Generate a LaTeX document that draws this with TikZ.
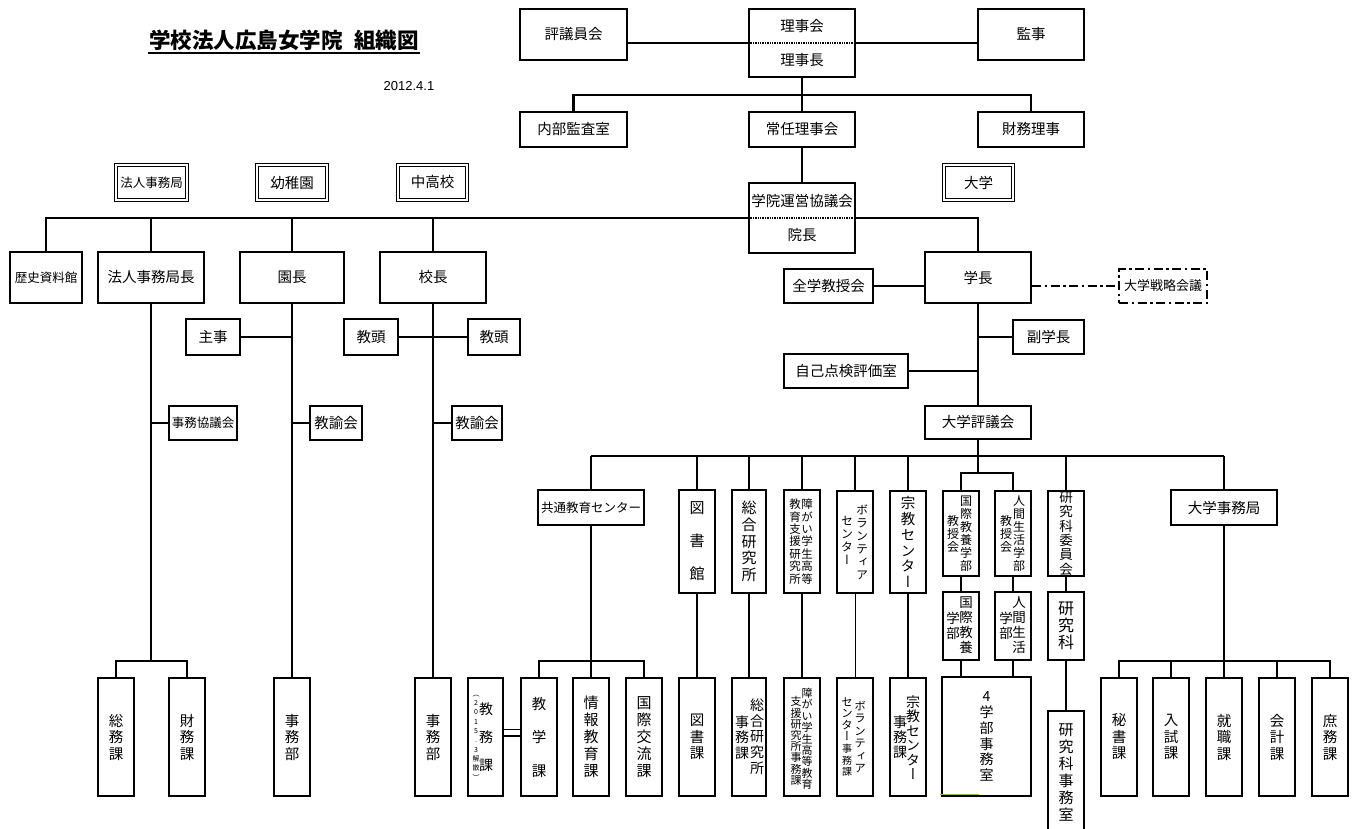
\documentclass[tikz,border=0pt]{standalone}
\usepackage{fontspec}
\setmainfont{Noto Sans CJK JP}
\newfontfamily\vfont[RawFeature=+vert]{Noto Sans CJK JP}
\newfontfamily\latinfont{Liberation Sans}
\newcommand\fs[2]{\fontsize{#1}{#2}\selectfont}
\newcommand\mkbox[7][]{\node[box,minimum width={(#5)-(#3)},minimum height={(#6)-(#4)},#1] (#2) at ({((#3)+(#5))/2},{((#4)+(#6))/2}) {#7};}
\definecolor{olivegr}{RGB}{150,190,70}
\begin{document}
\begin{tikzpicture}[x=1pt,y=-1pt,line width=2.1pt,
  box/.style={draw,rectangle,inner sep=0pt,align=center,font=\fs{14.5}{17}},
  txt/.style={inner sep=0pt,font=\fs{14.5}{17}},
  vt/.style 2 args={align=center,inner sep=0pt,font=\vfont\fs{#1}{#2}},
  dbl/.style={double,double distance=2pt,line width=1.1pt},
  ddline/.style={dash pattern=on 9pt off 3.5pt on 2.5pt off 3.5pt},
  thin line/.style={line width=0.7pt}]
\useasboundingbox (0,0) rectangle (1357,829);

% title and date
\node[inner sep=0pt,font=\bfseries\fs{21.5}{24},anchor=base] (title) at (284,49) {学校法人広島女学院\hspace{12pt}組織図};
\draw[line width=1.6pt] ([yshift=-1pt]title.south west) -- ([yshift=-1pt]title.south east);
\node[inner sep=0pt,font=\latinfont\fs{13}{15}] (date) at (409,86) {2012.4.1};

% top level
\mkbox{hyo}{520}{9}{627}{60}{評議員会}
\mkbox{rijikai}{749}{9}{855}{77}{}
\node[txt] (rijikaiA) at (802,26) {理事会};
\node[txt] (rijikaiB) at (802,60) {理事長};
\draw[densely dotted,line width=1.4pt] (rijikai.west) -- (rijikai.east);
\mkbox{kanji}{978}{9}{1084}{60}{監事}
\mkbox{naibu}{520}{112}{627}{147}{内部監査室}
\mkbox{jonin}{749}{112}{855}{147}{常任理事会}
\mkbox{zaimu}{978}{112}{1084}{147}{財務理事}
\mkbox{gakuin}{749}{183}{855}{253}{}
\node[txt] (gakuinA) at (802,201) {学院運営協議会};
\node[txt] (gakuinB) at (802,235) {院長};
\draw[densely dotted,line width=1.4pt] (gakuin.west) -- (gakuin.east);

% labels (double frame)
\mkbox[dbl,font=\fs{12.5}{15}]{lblA}{116}{165}{187}{200}{法人事務局}
\mkbox[dbl]{lblB}{257}{165}{327}{200}{幼稚園}
\mkbox[dbl]{lblC}{398}{165}{467}{200}{中高校}
\mkbox[dbl]{lblD}{944}{165}{1013}{200}{大学}

% second level
\mkbox[font=\fs{12.5}{15}]{rekishi}{10}{252}{82}{303}{歴史資料館}
\mkbox{hojin}{98}{252}{204}{303}{法人事務局長}
\mkbox{encho}{240}{252}{344}{303}{園長}
\mkbox{kocho}{380}{252}{486}{303}{校長}
\mkbox{gakucho}{925}{252}{1031}{303}{学長}
\mkbox{zengaku}{784}{269}{873}{303}{全学教授会}
\mkbox[ddline,font=\fs{13}{15}]{senryaku}{1119}{269}{1207}{303}{大学戦略会議}
\mkbox{shuji}{186}{319}{240}{355}{主事}
\mkbox{kyotoA}{344}{319}{398}{355}{教頭}
\mkbox{kyotoB}{468}{319}{520}{355}{教頭}
\mkbox{fuku}{1013}{320}{1084}{354}{副学長}
\mkbox{jiko}{784}{354}{908}{388}{自己点検評価室}
\mkbox[font=\fs{12.5}{15}]{jimukyogi}{169}{406}{237}{440}{事務協議会}
\mkbox{kyoyuA}{310}{406}{362}{440}{教諭会}
\mkbox{kyoyuB}{452}{406}{502}{440}{教諭会}
\mkbox{hyogikai}{925}{406}{1031}{439}{大学評議会}

% third level
\mkbox[font=\fs{12.5}{15}]{kyotsu}{538}{490}{644}{525}{共通教育センター}
\mkbox[font=\vfont\fs{15}{33}]{tosho}{679}{490}{715}{593}{図\\書\\館}
\mkbox[font=\vfont\fs{15}{16.7}]{sogo}{732}{490}{766}{593}{総\\合\\研\\究\\所}
\mkbox{shogai}{784}{490}{820}{593}{}
\node[vt={11.5}{12.4}] (shogaiR) at (807,541.5) {障\\が\\い\\学\\生\\高\\等};
\node[vt={11.5}{12.4}] (shogaiL) at (795,541.5) {教\\育\\支\\援\\研\\究\\所};
\mkbox{volun}{837}{491}{873}{593}{}
\node[vt={12}{13}] (volunR) at (862,542) {ボ\\ラ\\ン\\テ\\ィ\\ア};
\node[vt={12}{13}] (volunL) at (847,540) {セ\\ン\\タ\\ー};
\mkbox[font=\vfont\fs{14.5}{15.8}]{shukyo}{890}{491}{926}{593}{宗\\教\\セ\\ン\\タ\\ー}
\mkbox{kokkyoju}{943}{491}{979}{576}{}
\node[vt={12}{13}] (kokkyojuR) at (966,533.5) {国\\際\\教\\養\\学\\部};
\node[vt={12}{13}] (kokkyojuL) at (953,533.5) {教\\授\\会};
\mkbox{ninkyoju}{995}{491}{1031}{576}{}
\node[vt={12}{13}] (ninkyojuR) at (1019,533.5) {人\\間\\生\\活\\学\\部};
\node[vt={12}{13}] (ninkyojuL) at (1006,533.5) {教\\授\\会};
\mkbox[font=\vfont\fs{13.5}{14.4}]{kenkyuiin}{1048}{491}{1084}{576}{研\\究\\科\\委\\員\\会}
\mkbox{kokgakubu}{943}{592}{979}{660}{}
\node[vt={13.5}{15}] (kokgakubuR) at (966,625.5) {国\\際\\教\\養};
\node[vt={13.5}{15}] (kokgakubuL) at (953,625.5) {学\\部};
\mkbox{ningakubu}{995}{592}{1031}{660}{}
\node[vt={13.5}{15}] (ningakubuR) at (1019,625.5) {人\\間\\生\\活};
\node[vt={13.5}{15}] (ningakubuL) at (1006,625.5) {学\\部};
\mkbox[font=\vfont\fs{16}{17}]{kenkyuka}{1048}{592}{1084}{660}{研\\究\\科}
\mkbox{daijimu}{1171}{490}{1277}{525}{大学事務局}

% fourth level
\tikzset{three/.style={font=\vfont\fs{14.5}{16.5}},five/.style={font=\vfont\fs{15}{17}}}
\mkbox[three]{somu}{98}{678}{134}{796}{総\\務\\課}
\mkbox[three]{zaimuka}{169}{678}{205}{796}{財\\務\\課}
\mkbox[three]{jimubuA}{274}{678}{310}{796}{事\\務\\部}
\mkbox[three]{jimubuB}{415}{678}{451}{796}{事\\務\\部}
\mkbox{kyomu}{468}{678}{503}{796}{}
\node[vt={14}{28}] (kyomuR) at (486,737) {教\\務\\課};
\node[vt={7}{9.3}] (kyomuL) at (476,737.5) {（\\2\\0\\1\\5\\.\\3\\解\\散\\）};
\mkbox[font=\vfont\fs{14.5}{33.5}]{kyogaku}{521}{678}{557}{796}{教\\学\\課}
\mkbox[five]{joho}{573}{678}{609}{796}{情\\報\\教\\育\\課}
\mkbox[five]{koryu}{626}{678}{662}{796}{国\\際\\交\\流\\課}
\mkbox[three]{toshoka}{679}{678}{715}{796}{図\\書\\課}
\mkbox{sogojimu}{732}{678}{766}{796}{}
\node[vt={14}{15.75}] (sogojimuR) at (757,736.5) {総\\合\\研\\究\\所};
\node[vt={14}{15.5}] (sogojimuL) at (742,737.5) {事\\務\\課};
\mkbox{shogaijimu}{784}{678}{820}{796}{}
\node[vt={11}{11.4}] (shogaijimuR) at (807,739) {障\\が\\い\\学\\生\\高\\等\\教\\育};
\node[vt={11}{11.2}] (shogaijimuL) at (796,741) {支\\援\\研\\究\\所\\事\\務\\課};
\mkbox{volunjimu}{837}{678}{873}{796}{}
\node[vt={11.5}{12.5}] (volunjimuR) at (860,737) {ボ\\ラ\\ン\\テ\\ィ\\ア};
\node[vt={11.5}{11.6}] (volunjimuL) at (847,737) {セ\\ン\\タ\\ー\\{\fs{10}{11}事}\\{\fs{10}{11}務}\\{\fs{10}{11}課}};
\mkbox{shukyojimu}{890}{678}{926}{796}{}
\node[vt={14}{14.5}] (shukyojimuR) at (913,737.5) {宗\\教\\セ\\ン\\タ\\ー};
\node[vt={14}{15}] (shukyojimuL) at (900,737.5) {事\\務\\課};
\mkbox[font=\vfont\fs{14}{15.8}]{yongakubu}{942}{677}{1031}{796}{4\\学\\部\\事\\務\\室}
\draw[draw=olivegr,line width=1.3pt] (940,794.5) -- (979,794.5);
\mkbox[font=\vfont\fs{15}{17}]{kenkyujimu}{1048}{711}{1084}{833}{研\\究\\科\\事\\務\\室}
\mkbox[three]{hisho}{1101}{678}{1137}{796}{秘\\書\\課}
\mkbox[three]{nyushi}{1153}{678}{1189}{796}{入\\試\\課}
\mkbox[three]{shushoku}{1206}{678}{1242}{796}{就\\職\\課}
\mkbox[three]{kaikei}{1259}{678}{1295}{796}{会\\計\\課}
\mkbox[three]{shomu}{1312}{678}{1348}{796}{庶\\務\\課}

% connectors
\coordinate (yA) at (0,95);
\coordinate (yB) at (0,456);
\coordinate (yC) at (0,473);
\coordinate (yD) at (0,661);
\draw (hyo.east |- rijikai.west) -- (rijikai.west);
\draw (rijikai.east) -- (kanji.west |- rijikai.east);
\draw (rijikai.south) -- (jonin.north);
\draw (naibu.north) -- (naibu.north |- yA) -- (zaimu.north |- yA) -- (zaimu.north);
\draw (jonin.south) -- (gakuin.north);
\draw (gakuin.west) -- (rekishi.north |- gakuin.west) -- (rekishi.north);
\draw (hojin.north) -- (hojin.north |- gakuin.west);
\draw (encho.north) -- (encho.north |- gakuin.west);
\draw (kocho.north) -- (kocho.north |- gakuin.west);
\draw (gakuin.east) -- (gakucho.north |- gakuin.east) -- (gakucho.north);
\draw (zengaku.east) -- (gakucho.west |- zengaku.east);
\draw[ddline] (gakucho.east |- senryaku.west) -- (senryaku.west);
\draw (gakucho.south) -- (hyogikai.north);
\draw (fuku.west) -- (gakucho.south |- fuku.west);
\draw (jiko.east) -- (gakucho.south |- jiko.east);
% left branches
\draw (hojin.south) -- (hojin.south |- yD);
\draw (jimukyogi.west) -- (hojin.south |- jimukyogi.west);
\draw (somu.north) -- (somu.north |- yD) -- (zaimuka.north |- yD) -- (zaimuka.north);
\draw (encho.south) -- (encho.south |- jimubuA.north);
\draw (shuji.east) -- (encho.south |- shuji.east);
\draw (kyoyuA.west) -- (encho.south |- kyoyuA.west);
\draw (kocho.south) -- (kocho.south |- jimubuB.north);
\draw (kyotoA.east) -- (kyotoB.west);
\draw (kyoyuB.west) -- (kocho.south |- kyoyuB.west);
% university council branches
\draw (kyotsu.north |- yB) -- (daijimu.north |- yB);
\foreach \n in {kyotsu,tosho,sogo,shogai,volun,shukyo,kenkyuiin,daijimu}
  \draw (\n.north) -- (\n.north |- yB);
\draw (hyogikai.south) -- (hyogikai.south |- yC);
\draw (kokkyoju.north) -- (kokkyoju.north |- yC) -- (ninkyoju.north |- yC) -- (ninkyoju.north);
\draw (kyotsu.south) -- (kyotsu.south |- yD);
\draw (kyogaku.north) -- (kyogaku.north |- yD) -- (koryu.north |- yD) -- (koryu.north);
\draw (joho.north) -- (joho.north |- yD);
\draw[double,double distance=5pt,line width=1.5pt] ([yshift=4.5pt]kyomu.east) -- ([yshift=4.5pt]kyogaku.west);
\draw (tosho.south) -- (toshoka.north);
\draw (sogo.south) -- (sogojimu.north);
\draw (shogai.south) -- (shogaijimu.north);
\draw[thin line] (volun.south) -- (volunjimu.north);
\draw (shukyo.south) -- (shukyojimu.north);
\draw (kokkyoju.south) -- (kokgakubu.north);
\draw (ninkyoju.south) -- (ningakubu.north);
\draw (kokgakubu.south) -- (kokgakubu.south |- yongakubu.north);
\draw (ningakubu.south) -- (ningakubu.south |- yongakubu.north);
\draw (kenkyuiin.south) -- (kenkyuka.north);
\draw (kenkyuka.south) -- (kenkyujimu.north);
\draw (daijimu.south) -- (daijimu.south |- yD);
\draw (hisho.north) -- (hisho.north |- yD) -- (shomu.north |- yD) -- (shomu.north);
\foreach \n in {nyushi,shushoku,kaikei}
  \draw (\n.north) -- (\n.north |- yD);
\end{tikzpicture}
\end{document}
